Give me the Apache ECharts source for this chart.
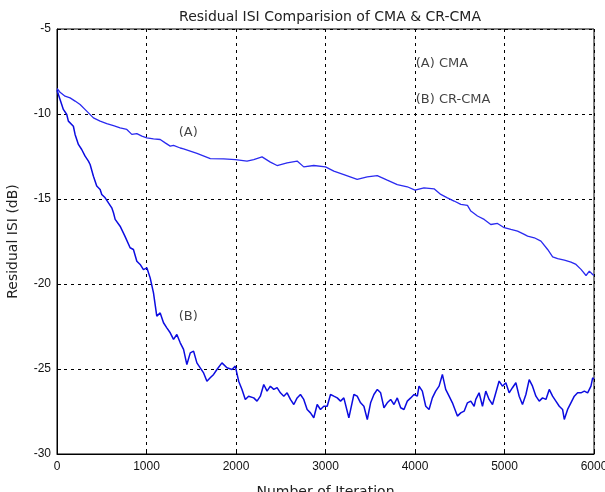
<!DOCTYPE html>
<html>
<head>
    <meta charset="utf-8">
    <title>Residual ISI</title>
    <script src="https://cdn.jsdelivr.net/npm/echarts@6/dist/echarts.min.js"></script>
    <style>
        html, body { margin: 0; padding: 0; background: #fff; }
        #chart1 { width: 605px; height: 492px; }
    </style>
</head>
<body>
<div id="chart1"></div>
<script type="text/javascript">
    // 曲线 (A) CMA
    var itersA = [0, 34, 90, 146, 202, 258, 332, 407, 482, 556, 631, 705, 780, 836, 892, 948, 1004, 1078, 1153, 1209, 1265, 1302, 1377, 1414,
        1564, 1713, 1862, 1993, 2123, 2198, 2291, 2384, 2459, 2571, 2683, 2757, 2869, 3000, 3093, 3205, 3354, 3466, 3578, 3690, 3802, 3914,
        4000, 4100, 4213, 4288, 4362, 4437, 4512, 4586, 4624, 4698, 4773, 4847, 4922, 4997, 5071, 5146, 5221, 5258, 5333, 5407, 5482, 5538,
        5594, 5669, 5743, 5799, 5855, 5911, 5948, 5985, 6000];
    var dbA = [-8.5, -8.72, -8.95, -9.05, -9.24, -9.44, -9.83, -10.23, -10.42, -10.56, -10.68, -10.81, -10.91, -11.2, -11.15, -11.3, -11.4, -11.46, -11.5, -11.7, -11.89, -11.85, -12.0, -12.05,
        -12.32, -12.62, -12.64, -12.68, -12.77, -12.68, -12.52, -12.83, -13.03, -12.87, -12.77, -13.11, -13.03, -13.11, -13.36, -13.56, -13.85, -13.7, -13.62, -13.89, -14.15, -14.28,
        -14.48, -14.34, -14.4, -14.73, -14.93, -15.12, -15.32, -15.38, -15.71, -16.0, -16.2, -16.5, -16.44, -16.69, -16.79, -16.89, -17.08, -17.18, -17.28, -17.48, -17.97, -18.4,
        -18.51, -18.59, -18.71, -18.85, -19.14, -19.5, -19.24, -19.44, -19.5];

    // 曲线 (B) CR-CMA
    var itersB = [0, 34, 53, 71, 109, 127, 146, 183, 202, 239, 276, 314, 351, 370, 407, 444, 482, 500, 538, 575, 612, 631, 650, 705, 760,
        817, 854, 892, 929, 966, 1004, 1041, 1078, 1115, 1153, 1190, 1227, 1265, 1302, 1339, 1377, 1414, 1451, 1489, 1526, 1563, 1600, 1638,
        1675, 1712, 1750, 1787, 1843, 1899, 1955, 1992, 2030, 2067, 2104, 2141, 2198, 2235, 2272, 2310, 2347, 2384, 2422, 2459, 2496, 2534,
        2571, 2608, 2646, 2683, 2720, 2757, 2795, 2832, 2869, 2907, 2944, 2981, 3019, 3056, 3093, 3131, 3168, 3205, 3261, 3317, 3354,
        3392, 3429, 3467, 3504, 3541, 3579, 3616, 3653, 3690, 3728, 3765, 3802, 3840, 3877, 3914, 3952, 3989, 4026, 4045, 4082, 4120, 4157,
        4194, 4231, 4269, 4306, 4343, 4381, 4418, 4474, 4511, 4549, 4586, 4623, 4661,
        4679, 4716, 4754, 4791, 4828, 4866, 4903, 4940, 4977, 5015, 5052, 5089, 5127, 5164, 5201, 5239, 5276, 5313, 5351, 5388, 5425, 5463,
        5500, 5537, 5574, 5612, 5649, 5668, 5705, 5742, 5780, 5817, 5854, 5892, 5929, 5966, 5985, 6000];
    var dbB = [-8.6, -9.15, -9.24, -9.73, -10.03, -10.42, -10.48, -10.72, -11.2, -11.79, -12.09, -12.48, -12.77, -12.97, -13.66, -14.24, -14.44, -14.73, -14.93, -15.23, -15.52, -15.81, -16.2, -16.6, -17.2,
        -17.87, -17.97, -18.66, -18.85, -19.15, -19.05, -19.64, -20.52, -21.89, -21.7, -22.28, -22.58, -22.87, -23.26, -22.97, -23.46, -23.85, -24.74, -24.05, -23.95, -24.64, -24.93, -25.23,
        -25.72, -25.52, -25.32, -25.03, -24.64, -24.93, -25.03, -24.83, -25.72, -26.21, -26.8, -26.6, -26.7, -26.89, -26.6, -25.91, -26.3, -26.01, -26.2, -26.1, -26.4, -26.6,
        -26.4, -26.79, -27.09, -26.7, -26.5, -26.79, -27.38, -27.58, -27.87, -27.09, -27.38, -27.19, -27.19, -26.5, -26.6, -26.7, -26.89, -26.7, -27.87, -26.5, -26.6,
        -26.99, -27.19, -27.97, -26.99, -26.5, -26.2, -26.4, -27.28, -26.99, -26.79, -27.09, -26.7, -27.28, -27.38, -26.89, -26.7, -26.5, -26.6, -26.01, -26.3, -27.19, -27.38,
        -26.7, -26.3, -26.01, -25.32, -26.2, -26.6, -26.99, -27.77, -27.58, -27.48, -26.99, -26.89, -27.19,
        -26.79, -26.4, -27.19, -26.3, -26.79, -27.09, -26.4, -25.71, -26.01, -25.81, -26.4, -26.1, -25.81, -26.6, -27.09, -26.5, -25.62, -26.01, -26.6, -26.89, -26.7, -26.79,
        -26.2, -26.6, -26.89, -27.19, -27.38, -27.97, -27.38, -26.99, -26.6, -26.4, -26.4, -26.3, -26.4, -26.01, -25.52, -25.6];

    // 图中的文字标注
    var noteText = ['(A) CMA', '(B) CR-CMA', '(A)', '(B)'];
    var noteX = [4008, 4008, 1466, 1466];
    var noteY = [-7.05, -9.15, -11.1, -21.9];
    var noteAlign = ['left', 'left', 'center', 'center'];

    var xTicks = [0, 1000, 2000, 3000, 4000, 5000, 6000];
    var yTicks = [-30, -25, -20, -15, -10, -5];

    function pairs(xs, ys) {
        var out = [];
        for (var i = 0; i < xs.length; i++) out.push([xs[i], ys[i]]);
        return out;
    }

    var notes = [];
    for (var i = 0; i < noteText.length; i++) {
        notes.push({
            value: [noteX[i], noteY[i]],
            label: {show: true, formatter: noteText[i], position: 'inside', align: noteAlign[i], verticalAlign: 'middle'}
        });
    }

    var font = 'Liberation Sans';
    var wide = 'DejaVu Sans';
    var myChart1 = echarts.init(document.getElementById('chart1'));
    myChart1.setOption({
        animation: false,
        backgroundColor: '#fff',
        title: {
            text: 'Residual ISI Comparision of CMA & CR-CMA',
            left: 325, textAlign: 'center', top: 5,
            textStyle: {fontFamily: wide, fontSize: 14, fontWeight: 'normal', color: '#222'}
        },
        grid: {left: 57, right: 11, top: 29, bottom: 38, outerBoundsMode: 'none',
            show: true, borderColor: '#000', borderWidth: 1, backgroundColor: 'transparent'},
        xAxis: {
            type: 'value', min: xTicks[0], max: xTicks[xTicks.length - 1], interval: 1000,
            name: 'Number of Iteration', nameLocation: 'middle', nameGap: 31,
            nameTextStyle: {fontFamily: wide, fontSize: 14, color: '#222'},
            axisLine: {onZero: false, lineStyle: {color: '#000'}},
            axisTick: {inside: true, length: 4, lineStyle: {color: '#000'}},
            axisLabel: {fontFamily: font, fontSize: 12, color: '#111', margin: 7, formatter: function (v) { return String(v); }},
            splitLine: {show: true, lineStyle: {color: '#000', type: [3, 4], width: 1}}
        },
        yAxis: {
            type: 'value', min: yTicks[0], max: yTicks[yTicks.length - 1], interval: 5,
            name: 'Residual ISI (dB)', nameLocation: 'middle', nameGap: 37,
            nameTextStyle: {fontFamily: wide, fontSize: 14, color: '#222'},
            axisLine: {onZero: false, lineStyle: {color: '#000'}},
            axisTick: {inside: true, length: 4, lineStyle: {color: '#000'}},
            axisLabel: {fontFamily: font, fontSize: 12, color: '#111', margin: 6},
            splitLine: {show: true, lineStyle: {color: '#000', type: [3, 4], width: 1}}
        },
        series: [
            {
                name: 'CMA', type: 'line', data: pairs(itersA, dbA), showSymbol: false,
                lineStyle: {color: '#2a2af0', width: 1.3}
            },
            {
                name: 'CR-CMA', type: 'line', data: pairs(itersB, dbB), showSymbol: false,
                lineStyle: {color: '#0c0ce0', width: 1.5}
            },
            {
                name: 'notes', type: 'scatter', data: notes, symbolSize: 0, silent: true,
                label: {fontFamily: wide, fontSize: 13, color: '#111'}
            }
        ]
    });
</script>
</body>
</html>
